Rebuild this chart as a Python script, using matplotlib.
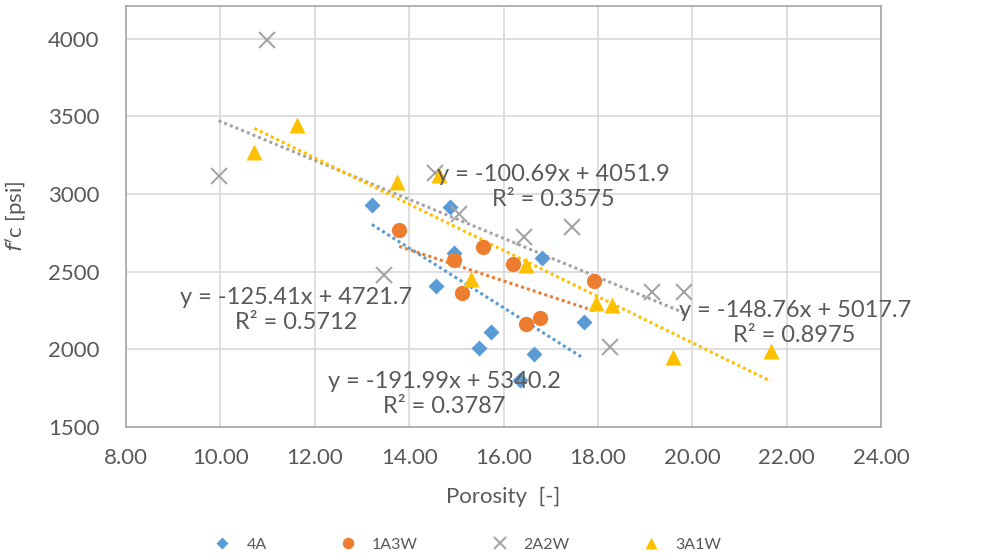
import matplotlib.pyplot as plt
import numpy as np

plt.rcParams['font.family'] = ['Lato', 'DejaVu Sans']

# porosity [-] and f'c [psi] for each mix
porosity_4a = [13.21, 14.87, 14.96, 16.81, 14.57, 15.74, 15.49, 16.64, 17.70, 16.34]
fc_4a = [2930, 2915, 2620, 2587, 2407, 2111, 2008, 1970, 2176, 1802]

porosity_1a3w = [13.79, 14.94, 15.57, 15.13, 16.21, 17.91, 16.47, 16.77]
fc_1a3w = [2768, 2575, 2658, 2362, 2549, 2440, 2163, 2201]

porosity_2a2w = [10.98, 9.96, 14.55, 15.06, 16.43, 17.45, 19.15, 19.83, 18.26, 13.47]
fc_2a2w = [3990, 3115, 3134, 2871, 2723, 2787, 2369, 2369, 2015, 2478]

porosity_3a1w = [10.72, 11.62, 13.74, 14.64, 15.32, 16.47, 17.96, 18.30, 19.60, 21.66]
fc_3a1w = [3270, 3443, 3077, 3122, 2452, 2542, 2298, 2285, 1950, 1989]

# linear trendlines (from the chart labels)
slopes = [-191.99, -100.69, -125.41, -148.76]
intercepts = [5340.2, 4051.9, 4721.7, 5017.7]
r2 = [0.3787, 0.3575, 0.5712, 0.8975]

names = ['4A', '1A3W', '2A2W', '3A1W']
colors = ['#5B9BD5', '#ED7D31', '#A5A5A5', '#FFC000']
markers = ['D', 'o', 'x', '^']
msizes = [8, 11, 11, 11]

xs = [porosity_4a, porosity_1a3w, porosity_2a2w, porosity_3a1w]
ys = [fc_4a, fc_1a3w, fc_2a2w, fc_3a1w]

# where each equation label sits (data coords)
label_pos = [(14.74, 1712), (17.06, 3044), (11.60, 2253), (22.17, 2169)]

txt = '#595959'

fig = plt.figure(figsize=(9.87, 5.6), dpi=100)
ax = fig.add_axes([0.1277, 0.2375, 0.7649, 0.7515])

for i in range(4):
    if markers[i] == 'x':
        ax.plot(xs[i], ys[i], linestyle='none', marker='x', ms=msizes[i],
                mew=1.5, color=colors[i], label=names[i], zorder=3)
    else:
        ax.plot(xs[i], ys[i], linestyle='none', marker=markers[i], ms=msizes[i],
                mec='none', color=colors[i], label=names[i], zorder=3)

for i in range(4):
    xl = np.array([min(xs[i]), max(xs[i])])
    ax.plot(xl, slopes[i] * xl + intercepts[i], color=colors[i], lw=2.2,
            linestyle=(0, (1, 1)), dash_capstyle='butt', zorder=2)

for i in range(4):
    eq = f"y = {slopes[i]:.2f}x + {intercepts[i]:.1f}\nR\u00b2 = {r2[i]:.4f}"
    ax.text(label_pos[i][0], label_pos[i][1], eq, ha='center', va='center',
            fontsize=17, color=txt, linespacing=1.25, zorder=4)

ax.set_xlim(8, 24)
ax.set_ylim(1500, 4210)
ax.set_xticks(np.arange(8, 24.1, 2))
ax.set_xticklabels([f"{v:.2f}" for v in np.arange(8, 24.1, 2)])
ax.set_yticks(np.arange(1500, 4001, 500))
ax.grid(True, color='#d9d9d9', lw=1.2)
ax.set_axisbelow(True)
ax.tick_params(length=0, labelsize=16, labelcolor=txt)
ax.tick_params(axis='y', pad=19)
ax.tick_params(axis='x', pad=15)
for s in ax.spines.values():
    s.set_color('#a6a6a6')
    s.set_linewidth(1.2)

ax.set_xlabel('Porosity  [-]', fontsize=16, color=txt, labelpad=14)
ax.set_ylabel("$f'$c [psi]", fontsize=16, color=txt, labelpad=14)

fig.legend(loc='center', bbox_to_anchor=(0.474, 0.027), ncol=4, frameon=False,
           fontsize=11.5, handlelength=1.0, handletextpad=1.0, columnspacing=4.6,
           markerscale=0.75, labelcolor=txt)

fig.savefig('out.png', dpi=100)
